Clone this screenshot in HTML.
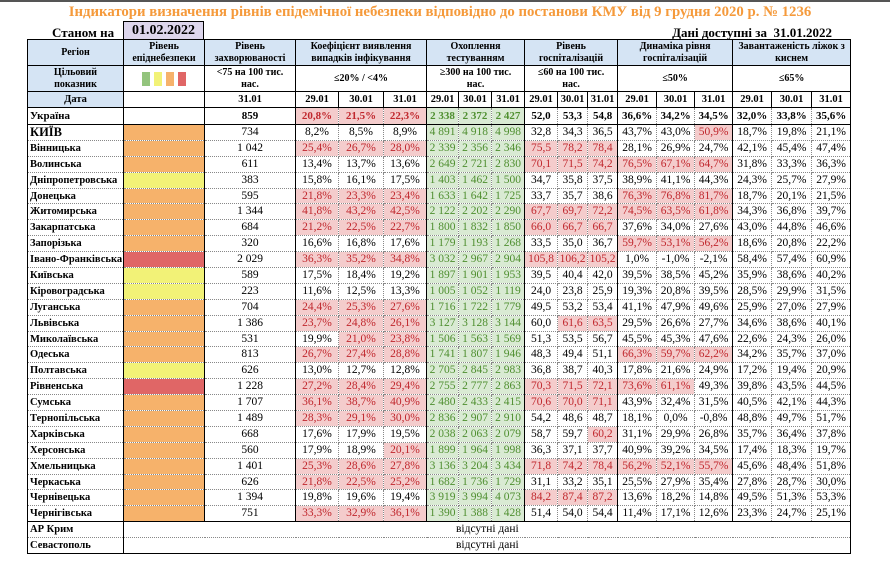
<!DOCTYPE html>
<html><head><meta charset="utf-8"><style>
body{margin:0;width:890px;height:569px;background:#fff;font-family:"Liberation Serif","DejaVu Serif",serif;position:relative;overflow:hidden}
.topline{position:absolute;left:0;top:0;width:890px;height:2px;background:#555}
.title{position:absolute;left:0;top:4px;width:880px;text-align:center;color:#f59a3b;font-weight:bold;font-size:14.8px}
.st{position:absolute;left:52px;top:25px;font-weight:bold;font-size:13px}
.dt{position:absolute;left:123px;top:21px;width:81px;height:18px;box-sizing:border-box;border:1px solid #000;border-bottom:none;background:#ddd6ec;font-weight:bold;font-size:14px;text-align:center;line-height:17px}
.av{position:absolute;right:58px;top:25px;font-weight:bold;font-size:13px}
table{position:absolute;left:27px;top:39px;border-collapse:collapse;table-layout:fixed;width:823px;font-size:11.5px;font-family:"Liberation Serif","DejaVu Serif",serif}
td{padding:0;text-align:center;border-right:1px dotted #888;border-bottom:1px dotted #888;white-space:nowrap;overflow:hidden;line-height:13px}
td.g{border-right:1px solid #000}
tr.h td{background:#d5e4f4;font-weight:bold;font-size:10px;border:1px solid #000;white-space:normal;line-height:11.5px}
tr.h2 td,tr.h3 td{font-weight:bold;font-size:10px;border:1px solid #000;white-space:normal;line-height:11.5px}
tr.h3 td{font-size:10.5px}
td.rg{background:#d5e4f4!important;font-weight:bold;font-size:10px;border-right:1px solid #000;border-left:1px solid #000}
td.n{text-align:left;font-weight:bold;font-size:10.5px;padding-left:2px;border-left:1px solid #000;border-right:1px solid #000}
td.lv{border-right:1px solid #000}
.O{background:#f6b26b}.Y{background:#f2f277}.R{background:#e06666}
td.r{background:#f4cccc;color:#c0272d}
td.t{background:#d9ead3;color:#4f8f30}
td.tg{background:#d9ead3;color:#4f8f30;border-right:1px solid #000}
tr.d td{height:14.9px}
tr.u td{font-weight:bold;height:16px;border-bottom:1px solid #000;font-size:11px}
.sq{display:inline-block;width:8px;height:14px;margin:0 2px;vertical-align:middle}
tr.last td{border-bottom:1px solid #000}
</style></head><body>
<div class="topline"></div>
<div class="title">Індикатори визначення рівнів епідемічної небезпеки відповідно до постанови КМУ від 9 грудня 2020 р. № 1236</div>
<div class="st">Станом на</div>
<div class="dt">01.02.2022</div>
<div class="av">Дані доступні за&nbsp; 31.01.2022</div>
<table>
<colgroup><col style="width:96px"><col style="width:81px"><col style="width:91px"><col style="width:43px"><col style="width:45px"><col style="width:43px"><col style="width:32px"><col style="width:33px"><col style="width:33px"><col style="width:33px"><col style="width:30px"><col style="width:30px"><col style="width:39px"><col style="width:38px"><col style="width:38px"><col style="width:39px"><col style="width:40px"><col style="width:39px"></colgroup>
<tr class="h" style="height:26px"><td>Регіон</td><td>Рівень епіднебезпеки</td><td>Рівень захворюваності</td><td colspan="3">Коефіцієнт виявлення випадків інфікування</td><td colspan="3">Охоплення тестуванням</td><td colspan="3">Рівень госпіталізацій</td><td colspan="3">Динаміка рівня госпіталізацій</td><td colspan="3">Завантаженість ліжок з киснем</td></tr>
<tr class="h2" style="height:26px"><td class="rg">Цільовий<br>показник</td><td><span class="sq" style="background:#93c47d"></span><span class="sq" style="background:#f2f277"></span><span class="sq O"></span><span class="sq R"></span></td><td>&lt;75 на 100 тис.<br>нас.</td><td colspan="3">≤20% / &lt;4%</td><td colspan="3">≥300 на 100 тис.<br>нас.</td><td colspan="3">≤60 на 100 тис.<br>нас.</td><td colspan="3">≤50%</td><td colspan="3">≤65%</td></tr>
<tr class="h3" style="height:16px"><td class="rg">Дата</td><td></td><td>31.01</td><td>29.01</td><td>30.01</td><td>31.01</td><td>29.01</td><td>30.01</td><td>31.01</td><td>29.01</td><td>30.01</td><td>31.01</td><td>29.01</td><td>30.01</td><td>31.01</td><td>29.01</td><td>30.01</td><td>31.01</td></tr>
<tr class="u"><td class="n">Україна</td><td class="lv"></td><td class="g">859</td><td class="r">20,8%</td><td class="r">21,5%</td><td class="r g">22,3%</td><td class="t">2 338</td><td class="t">2 372</td><td class="tg">2 427</td><td>52,0</td><td>53,3</td><td class="g">54,8</td><td>36,6%</td><td>34,2%</td><td class="g">34,5%</td><td>32,0%</td><td>33,8%</td><td class="g">35,6%</td></tr>
<tr class="d"><td class="n" style="font-size:12.5px">КИЇВ</td><td class="lv O"></td><td class="g">734</td><td>8,2%</td><td>8,5%</td><td class="g">8,9%</td><td class="t">4 891</td><td class="t">4 918</td><td class="tg">4 998</td><td>32,8</td><td>34,3</td><td class="g">36,5</td><td>43,7%</td><td>43,0%</td><td class="r g">50,9%</td><td>18,7%</td><td>19,8%</td><td class="g">21,1%</td></tr>
<tr class="d"><td class="n">Вінницька</td><td class="lv O"></td><td class="g">1 042</td><td class="r">25,4%</td><td class="r">26,7%</td><td class="r g">28,0%</td><td class="t">2 339</td><td class="t">2 356</td><td class="tg">2 346</td><td class="r">75,5</td><td class="r">78,2</td><td class="r g">78,4</td><td>28,1%</td><td>26,9%</td><td class="g">24,7%</td><td>42,1%</td><td>45,4%</td><td class="g">47,4%</td></tr>
<tr class="d"><td class="n">Волинська</td><td class="lv O"></td><td class="g">611</td><td>13,4%</td><td>13,7%</td><td class="g">13,6%</td><td class="t">2 649</td><td class="t">2 721</td><td class="tg">2 830</td><td class="r">70,1</td><td class="r">71,5</td><td class="r g">74,2</td><td class="r">76,5%</td><td class="r">67,1%</td><td class="r g">64,7%</td><td>31,8%</td><td>33,3%</td><td class="g">36,3%</td></tr>
<tr class="d"><td class="n">Дніпропетровська</td><td class="lv Y"></td><td class="g">383</td><td>15,8%</td><td>16,1%</td><td class="g">17,5%</td><td class="t">1 403</td><td class="t">1 462</td><td class="tg">1 500</td><td>34,7</td><td>35,8</td><td class="g">37,5</td><td>38,9%</td><td>41,1%</td><td class="g">44,3%</td><td>24,3%</td><td>25,7%</td><td class="g">27,9%</td></tr>
<tr class="d"><td class="n">Донецька</td><td class="lv O"></td><td class="g">595</td><td class="r">21,8%</td><td class="r">23,3%</td><td class="r g">23,4%</td><td class="t">1 633</td><td class="t">1 642</td><td class="tg">1 725</td><td>33,7</td><td>35,7</td><td class="g">38,6</td><td class="r">76,3%</td><td class="r">76,8%</td><td class="r g">81,7%</td><td>18,7%</td><td>20,1%</td><td class="g">21,5%</td></tr>
<tr class="d"><td class="n">Житомирська</td><td class="lv O"></td><td class="g">1 344</td><td class="r">41,8%</td><td class="r">43,2%</td><td class="r g">42,5%</td><td class="t">2 122</td><td class="t">2 202</td><td class="tg">2 290</td><td class="r">67,7</td><td class="r">69,7</td><td class="r g">72,2</td><td class="r">74,5%</td><td class="r">63,5%</td><td class="r g">61,8%</td><td>34,3%</td><td>36,8%</td><td class="g">39,7%</td></tr>
<tr class="d"><td class="n">Закарпатська</td><td class="lv O"></td><td class="g">684</td><td class="r">21,2%</td><td class="r">22,5%</td><td class="r g">22,7%</td><td class="t">1 800</td><td class="t">1 832</td><td class="tg">1 850</td><td class="r">66,0</td><td class="r">66,7</td><td class="r g">66,7</td><td>37,6%</td><td>34,0%</td><td class="g">27,6%</td><td>43,0%</td><td>44,8%</td><td class="g">46,6%</td></tr>
<tr class="d"><td class="n">Запорізька</td><td class="lv O"></td><td class="g">320</td><td>16,6%</td><td>16,8%</td><td class="g">17,6%</td><td class="t">1 179</td><td class="t">1 193</td><td class="tg">1 268</td><td>33,5</td><td>35,0</td><td class="g">36,7</td><td class="r">59,7%</td><td class="r">53,1%</td><td class="r g">56,2%</td><td>18,6%</td><td>20,8%</td><td class="g">22,2%</td></tr>
<tr class="d"><td class="n">Івано-Франківська</td><td class="lv R"></td><td class="g">2 029</td><td class="r">36,3%</td><td class="r">35,2%</td><td class="r g">34,8%</td><td class="t">3 032</td><td class="t">2 967</td><td class="tg">2 904</td><td class="r">105,8</td><td class="r">106,2</td><td class="r g">105,2</td><td>1,0%</td><td>-1,0%</td><td class="g">-2,1%</td><td>58,4%</td><td>57,4%</td><td class="g">60,9%</td></tr>
<tr class="d"><td class="n">Київська</td><td class="lv Y"></td><td class="g">589</td><td>17,5%</td><td>18,4%</td><td class="g">19,2%</td><td class="t">1 897</td><td class="t">1 901</td><td class="tg">1 953</td><td>39,5</td><td>40,4</td><td class="g">42,0</td><td>39,5%</td><td>38,5%</td><td class="g">45,2%</td><td>35,9%</td><td>38,6%</td><td class="g">40,2%</td></tr>
<tr class="d"><td class="n">Кіровоградська</td><td class="lv Y"></td><td class="g">223</td><td>11,6%</td><td>12,5%</td><td class="g">13,3%</td><td class="t">1 005</td><td class="t">1 052</td><td class="tg">1 119</td><td>24,0</td><td>23,8</td><td class="g">25,9</td><td>19,3%</td><td>20,8%</td><td class="g">39,5%</td><td>28,5%</td><td>29,9%</td><td class="g">31,5%</td></tr>
<tr class="d"><td class="n">Луганська</td><td class="lv O"></td><td class="g">704</td><td class="r">24,4%</td><td class="r">25,3%</td><td class="r g">27,6%</td><td class="t">1 716</td><td class="t">1 722</td><td class="tg">1 779</td><td>49,5</td><td>53,2</td><td class="g">53,4</td><td>41,1%</td><td>47,9%</td><td class="g">49,6%</td><td>25,9%</td><td>27,0%</td><td class="g">27,9%</td></tr>
<tr class="d"><td class="n">Львівська</td><td class="lv O"></td><td class="g">1 386</td><td class="r">23,7%</td><td class="r">24,8%</td><td class="r g">26,1%</td><td class="t">3 127</td><td class="t">3 128</td><td class="tg">3 144</td><td>60,0</td><td class="r">61,6</td><td class="r g">63,5</td><td>29,5%</td><td>26,6%</td><td class="g">27,7%</td><td>34,6%</td><td>38,6%</td><td class="g">40,1%</td></tr>
<tr class="d"><td class="n">Миколаївська</td><td class="lv O"></td><td class="g">531</td><td>19,9%</td><td class="r">21,0%</td><td class="r g">23,8%</td><td class="t">1 506</td><td class="t">1 563</td><td class="tg">1 569</td><td>51,3</td><td>53,5</td><td class="g">56,7</td><td>45,5%</td><td>45,3%</td><td class="g">47,6%</td><td>22,6%</td><td>24,3%</td><td class="g">26,0%</td></tr>
<tr class="d"><td class="n">Одеська</td><td class="lv O"></td><td class="g">813</td><td class="r">26,7%</td><td class="r">27,4%</td><td class="r g">28,8%</td><td class="t">1 741</td><td class="t">1 807</td><td class="tg">1 946</td><td>48,3</td><td>49,4</td><td class="g">51,1</td><td class="r">66,3%</td><td class="r">59,7%</td><td class="r g">62,2%</td><td>34,2%</td><td>35,7%</td><td class="g">37,0%</td></tr>
<tr class="d"><td class="n">Полтавська</td><td class="lv Y"></td><td class="g">626</td><td>13,0%</td><td>12,7%</td><td class="g">12,8%</td><td class="t">2 705</td><td class="t">2 845</td><td class="tg">2 983</td><td>36,8</td><td>38,7</td><td class="g">40,3</td><td>17,8%</td><td>21,6%</td><td class="g">24,9%</td><td>17,2%</td><td>19,4%</td><td class="g">20,9%</td></tr>
<tr class="d"><td class="n">Рівненська</td><td class="lv R"></td><td class="g">1 228</td><td class="r">27,2%</td><td class="r">28,4%</td><td class="r g">29,4%</td><td class="t">2 755</td><td class="t">2 777</td><td class="tg">2 863</td><td class="r">70,3</td><td class="r">71,5</td><td class="r g">72,1</td><td class="r">73,6%</td><td class="r">61,1%</td><td class="g">49,3%</td><td>39,8%</td><td>43,5%</td><td class="g">44,5%</td></tr>
<tr class="d"><td class="n">Сумська</td><td class="lv O"></td><td class="g">1 707</td><td class="r">36,1%</td><td class="r">38,7%</td><td class="r g">40,9%</td><td class="t">2 480</td><td class="t">2 433</td><td class="tg">2 415</td><td class="r">70,6</td><td class="r">70,0</td><td class="r g">71,1</td><td>43,9%</td><td>32,4%</td><td class="g">31,5%</td><td>40,5%</td><td>42,1%</td><td class="g">44,3%</td></tr>
<tr class="d"><td class="n">Тернопільська</td><td class="lv O"></td><td class="g">1 489</td><td class="r">28,3%</td><td class="r">29,1%</td><td class="r g">30,0%</td><td class="t">2 836</td><td class="t">2 907</td><td class="tg">2 910</td><td>54,2</td><td>48,6</td><td class="g">48,7</td><td>18,1%</td><td>0,0%</td><td class="g">-0,8%</td><td>48,8%</td><td>49,7%</td><td class="g">51,7%</td></tr>
<tr class="d"><td class="n">Харківська</td><td class="lv O"></td><td class="g">668</td><td>17,6%</td><td>17,9%</td><td class="g">19,5%</td><td class="t">2 038</td><td class="t">2 063</td><td class="tg">2 079</td><td>58,7</td><td>59,7</td><td class="r g">60,2</td><td>31,1%</td><td>29,9%</td><td class="g">26,8%</td><td>35,7%</td><td>36,4%</td><td class="g">37,8%</td></tr>
<tr class="d"><td class="n">Херсонська</td><td class="lv O"></td><td class="g">560</td><td>17,9%</td><td>18,9%</td><td class="r g">20,1%</td><td class="t">1 899</td><td class="t">1 964</td><td class="tg">1 998</td><td>36,3</td><td>37,1</td><td class="g">37,7</td><td>40,9%</td><td>39,2%</td><td class="g">34,5%</td><td>17,4%</td><td>18,3%</td><td class="g">19,7%</td></tr>
<tr class="d"><td class="n">Хмельницька</td><td class="lv O"></td><td class="g">1 401</td><td class="r">25,3%</td><td class="r">28,6%</td><td class="r g">27,8%</td><td class="t">3 136</td><td class="t">3 204</td><td class="tg">3 434</td><td class="r">71,8</td><td class="r">74,2</td><td class="r g">78,4</td><td class="r">56,2%</td><td class="r">52,1%</td><td class="r g">55,7%</td><td>45,6%</td><td>48,4%</td><td class="g">51,8%</td></tr>
<tr class="d"><td class="n">Черкаська</td><td class="lv O"></td><td class="g">626</td><td class="r">21,8%</td><td class="r">22,5%</td><td class="r g">25,2%</td><td class="t">1 682</td><td class="t">1 736</td><td class="tg">1 729</td><td>31,1</td><td>33,2</td><td class="g">35,1</td><td>25,5%</td><td>27,9%</td><td class="g">35,4%</td><td>27,8%</td><td>28,7%</td><td class="g">30,0%</td></tr>
<tr class="d"><td class="n">Чернівецька</td><td class="lv O"></td><td class="g">1 394</td><td>19,8%</td><td>19,6%</td><td class="g">19,4%</td><td class="t">3 919</td><td class="t">3 994</td><td class="tg">4 073</td><td class="r">84,2</td><td class="r">87,4</td><td class="r g">87,2</td><td>13,6%</td><td>18,2%</td><td class="g">14,8%</td><td>49,5%</td><td>51,3%</td><td class="g">53,3%</td></tr>
<tr class="d last"><td class="n">Чернігівська</td><td class="lv O"></td><td class="g">751</td><td class="r">33,3%</td><td class="r">32,9%</td><td class="r g">36,1%</td><td class="t">1 390</td><td class="t">1 388</td><td class="tg">1 428</td><td>51,4</td><td>54,0</td><td class="g">54,4</td><td>11,4%</td><td>17,1%</td><td class="g">12,6%</td><td>23,3%</td><td>24,7%</td><td class="g">25,1%</td></tr>
<tr class="d"><td class="n">АР Крим</td><td colspan="17" class="g" style="text-align:left;padding-left:332px">відсутні дані</td></tr>
<tr class="d last"><td class="n">Севастополь</td><td colspan="17" class="g" style="text-align:left;padding-left:332px">відсутні дані</td></tr>
</table>
</body></html>
